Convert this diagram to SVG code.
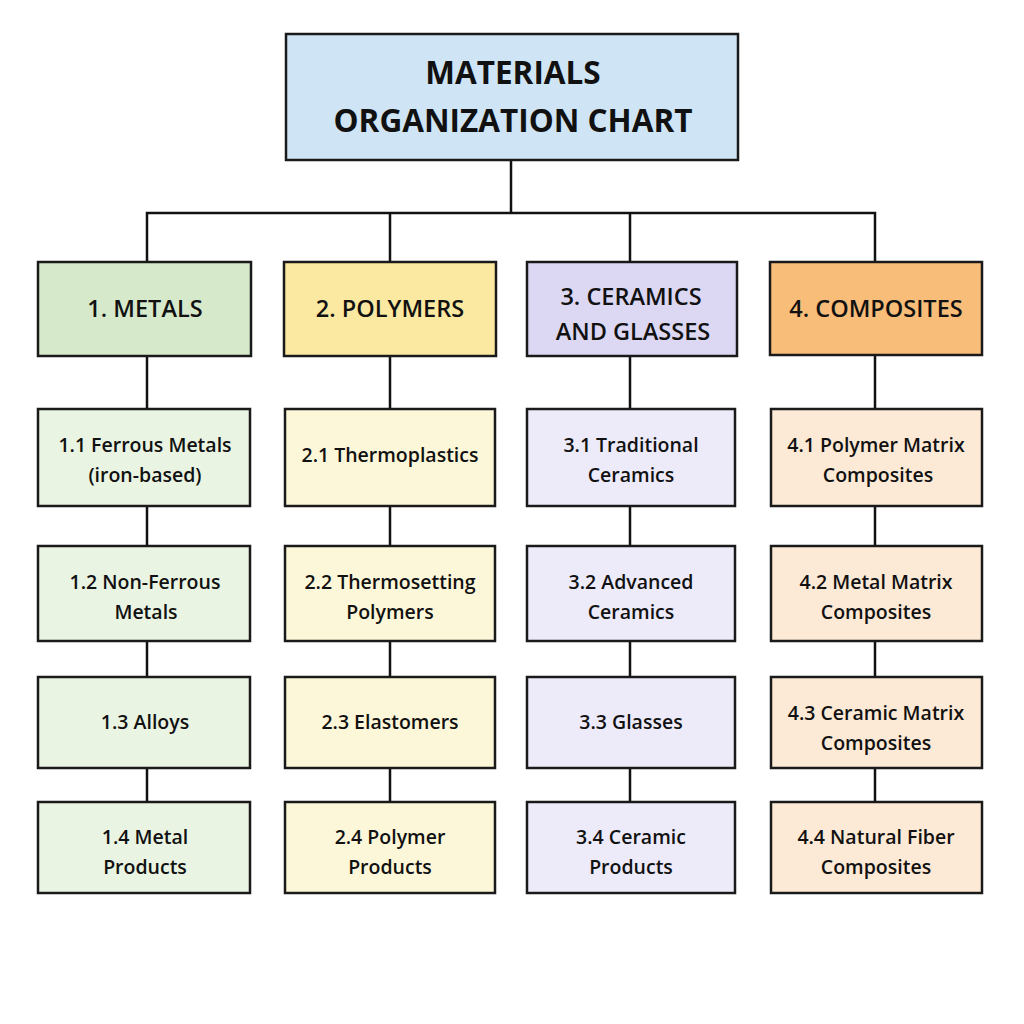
<svg xmlns="http://www.w3.org/2000/svg" width="1024" height="1024" viewBox="0 0 1024 1024">
<style>
.box{stroke:#1a1a1a;stroke-width:2.5}
.t{font-family:"Open Sans","Noto Sans","Liberation Sans",sans-serif;fill:#111;text-anchor:middle}
.title{font-size:31.5px;font-weight:700}
.h{font-size:23.5px;font-weight:600}
.c{font-size:19.5px;font-weight:600}
.conn{stroke:#111;stroke-width:2.5;fill:none}
.g1{fill:#d6e9ca}.g2{fill:#eaf4e2}
.y1{fill:#fce9a1}.y2{fill:#fdf7d9}
.p1{fill:#dcd7f3}.p2{fill:#edebfa}
.o1{fill:#f8bd79}.o2{fill:#fdead6}
</style>
<rect width="1024" height="1024" fill="#ffffff"/>
<g id="connectors">
<path class="conn" d="M511 160V213M147 262V213H875V262M390 213V262M630 213V262"/>
<path class="conn" d="M147 356V409M147 506V546M147 641V677M147 768V802"/>
<path class="conn" d="M390 356V409M390 506V546M390 641V677M390 768V802"/>
<path class="conn" d="M630 356V409M630 506V546M630 641V677M630 768V802"/>
<path class="conn" d="M875 356V409M875 506V546M875 641V677M875 768V802"/>
</g>
<g id="root">
<rect class="box" x="286" y="34" width="452" height="126" fill="#cfe5f5"/>
<text class="t title" x="513" y="84">MATERIALS</text>
<text class="t title" x="513" y="132">ORGANIZATION CHART</text>
</g>
<g id="metals">
<rect class="box g1" x="38" y="262" width="213" height="94"/>
<text class="t h" x="145" y="317">1. METALS</text>
</g>
<g id="polymers">
<rect class="box y1" x="284" y="262" width="212" height="94"/>
<text class="t h" x="390" y="317">2. POLYMERS</text>
</g>
<g id="ceramics">
<rect class="box p1" x="527" y="262" width="210" height="94"/>
<text class="t h" x="631" y="305">3. CERAMICS</text>
<text class="t h" x="633" y="340">AND GLASSES</text>
</g>
<g id="composites">
<rect class="box o1" x="770" y="262" width="212" height="93"/>
<text class="t h" x="876" y="317">4. COMPOSITES</text>
</g>
<g id="m1"><rect class="box g2" x="38" y="409" width="212" height="97"/>
<text class="t c" x="145" y="452">1.1 Ferrous Metals</text><text class="t c" x="145" y="482">(iron-based)</text></g>
<g id="m2"><rect class="box g2" x="38" y="546" width="212" height="95"/>
<text class="t c" x="145" y="589">1.2 Non-Ferrous</text><text class="t c" x="146" y="619">Metals</text></g>
<g id="m3"><rect class="box g2" x="38" y="677" width="212" height="91"/>
<text class="t c" x="145" y="729">1.3 Alloys</text></g>
<g id="m4"><rect class="box g2" x="38" y="802" width="212" height="91"/>
<text class="t c" x="145" y="844">1.4 Metal</text><text class="t c" x="145" y="874">Products</text></g>
<g id="p1"><rect class="box y2" x="285" y="409" width="210" height="97"/>
<text class="t c" x="390" y="462">2.1 Thermoplastics</text></g>
<g id="p2"><rect class="box y2" x="285" y="546" width="210" height="95"/>
<text class="t c" x="390" y="589">2.2 Thermosetting</text><text class="t c" x="390" y="619">Polymers</text></g>
<g id="p3"><rect class="box y2" x="285" y="677" width="210" height="91"/>
<text class="t c" x="390" y="729">2.3 Elastomers</text></g>
<g id="p4"><rect class="box y2" x="285" y="802" width="210" height="91"/>
<text class="t c" x="390" y="844">2.4 Polymer</text><text class="t c" x="390" y="874">Products</text></g>
<g id="c1"><rect class="box p2" x="527" y="409" width="208" height="97"/>
<text class="t c" x="631" y="452">3.1 Traditional</text><text class="t c" x="631" y="482">Ceramics</text></g>
<g id="c2"><rect class="box p2" x="527" y="546" width="208" height="95"/>
<text class="t c" x="631" y="589">3.2 Advanced</text><text class="t c" x="631" y="619">Ceramics</text></g>
<g id="c3"><rect class="box p2" x="527" y="677" width="208" height="91"/>
<text class="t c" x="631" y="729">3.3 Glasses</text></g>
<g id="c4"><rect class="box p2" x="527" y="802" width="208" height="91"/>
<text class="t c" x="631" y="844">3.4 Ceramic</text><text class="t c" x="631" y="874">Products</text></g>
<g id="k1"><rect class="box o2" x="771" y="409" width="211" height="97"/>
<text class="t c" x="876" y="452">4.1 Polymer Matrix</text><text class="t c" x="878" y="482">Composites</text></g>
<g id="k2"><rect class="box o2" x="771" y="546" width="211" height="95"/>
<text class="t c" x="876" y="589">4.2 Metal Matrix</text><text class="t c" x="876" y="619">Composites</text></g>
<g id="k3"><rect class="box o2" x="771" y="677" width="211" height="91"/>
<text class="t c" x="876" y="720">4.3 Ceramic Matrix</text><text class="t c" x="876" y="750">Composites</text></g>
<g id="k4"><rect class="box o2" x="771" y="802" width="211" height="91"/>
<text class="t c" x="876" y="844">4.4 Natural Fiber</text><text class="t c" x="876" y="874">Composites</text></g>
</svg>
